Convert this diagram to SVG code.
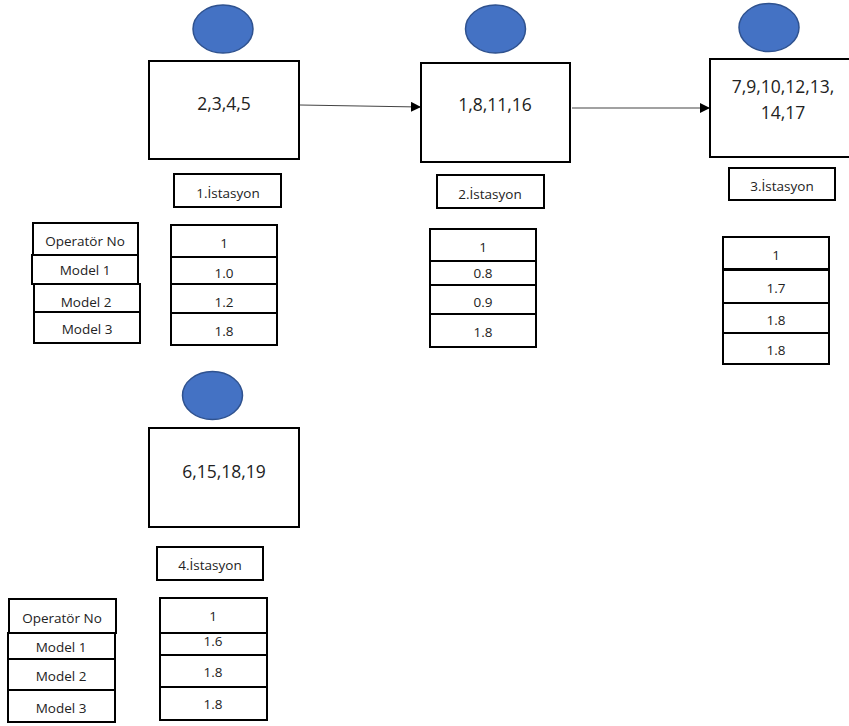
<svg xmlns="http://www.w3.org/2000/svg" width="849" height="726" viewBox="0 0 849 726">
  <style>
    .op { fill: #4472C4; stroke: #2F528F; stroke-width: 1.5; }
    .box { fill: #fff; stroke: #000; stroke-width: 2; }
    .cell { fill: #fff; stroke: #000; stroke-width: 2; }
    .big { font-family: "Open Sans", "Noto Sans", sans-serif; font-size: 17.5px; fill: #222; text-anchor: middle; }
    .small { font-family: "Open Sans", "Noto Sans", sans-serif; font-size: 13.5px; fill: #222; text-anchor: middle; }
    .link { stroke: #444; stroke-width: 1.2; fill: none; marker-end: url(#head); }
  </style>
  <defs>
    <marker id="head" markerWidth="10" markerHeight="10" refX="9" refY="5" orient="auto" markerUnits="userSpaceOnUse">
      <path d="M0,0 L10,5 L0,10 Z" fill="#000"/>
    </marker>
  </defs>
  <rect width="849" height="726" fill="#fff"/>

  <!-- connectors between stations -->
  <g id="connectors">
    <line class="link" x1="300" y1="105" x2="420" y2="107"/>
    <line class="link" x1="572" y1="108" x2="709" y2="108"/>
  </g>

  <!-- station 1 -->
  <g id="station1">
    <ellipse class="op" cx="223" cy="29" rx="30" ry="24"/>
    <rect class="box" x="149" y="61" width="150" height="98"/>
    <text class="big" x="224" y="110">2,3,4,5</text>
    <rect class="box" x="174" y="174" width="107" height="33"/>
    <text class="small" x="228" y="198">1.İstasyon</text>
  </g>

  <!-- row labels, upper -->
  <g id="labels1">
    <rect class="cell" x="33" y="223" width="105" height="32"/>
    <text class="small" x="85" y="246">Operatör No</text>
    <rect class="cell" x="32" y="255" width="106" height="29"/>
    <text class="small" x="85" y="275">Model 1</text>
    <rect class="cell" x="34" y="284" width="106" height="28"/>
    <text class="small" x="86" y="307">Model 2</text>
    <rect class="cell" x="34" y="312" width="106" height="31"/>
    <text class="small" x="87" y="334">Model 3</text>
  </g>

  <!-- station 1 values -->
  <g id="table1">
    <rect class="cell" x="171" y="225" width="106" height="32"/>
    <text class="small" x="224" y="248">1</text>
    <rect class="cell" x="171" y="257" width="106" height="27"/>
    <text class="small" x="224" y="278">1.0</text>
    <rect class="cell" x="171" y="284" width="106" height="29"/>
    <text class="small" x="224" y="307">1.2</text>
    <rect class="cell" x="171" y="313" width="106" height="32"/>
    <text class="small" x="224" y="336">1.8</text>
  </g>

  <!-- station 2 -->
  <g id="station2">
    <ellipse class="op" cx="495.5" cy="29" rx="30" ry="24"/>
    <rect class="box" x="421" y="63" width="149" height="99"/>
    <text class="big" x="495" y="111">1,8,11,16</text>
    <rect class="box" x="437" y="175" width="107" height="33"/>
    <text class="small" x="490" y="199">2.İstasyon</text>
  </g>

  <g id="table2">
    <rect class="cell" x="430" y="229" width="106" height="32"/>
    <text class="small" x="483" y="252">1</text>
    <rect class="cell" x="430" y="261" width="106" height="24"/>
    <text class="small" x="483" y="278">0.8</text>
    <rect class="cell" x="430" y="285" width="106" height="29"/>
    <text class="small" x="483" y="307">0.9</text>
    <rect class="cell" x="430" y="314" width="106" height="33"/>
    <text class="small" x="483" y="337">1.8</text>
  </g>

  <!-- station 3 -->
  <g id="station3">
    <ellipse class="op" cx="769" cy="27.5" rx="30" ry="24"/>
    <rect class="box" x="710" y="59" width="142" height="98"/>
    <text class="big" x="783" y="93">7,9,10,12,13,</text>
    <text class="big" x="783" y="119">14,17</text>
    <rect class="box" x="729" y="168" width="106" height="32"/>
    <text class="small" x="782" y="191">3.İstasyon</text>
  </g>

  <g id="table3">
    <rect class="cell" x="723" y="237" width="106" height="32"/>
    <text class="small" x="776" y="260">1</text>
    <rect class="cell" x="723" y="270" width="106" height="33"/>
    <text class="small" x="776" y="293">1.7</text>
    <rect class="cell" x="723" y="303" width="106" height="30"/>
    <text class="small" x="776" y="325">1.8</text>
    <rect class="cell" x="723" y="333" width="106" height="31"/>
    <text class="small" x="776" y="355">1.8</text>
  </g>

  <!-- station 4 -->
  <g id="station4">
    <ellipse class="op" cx="212.5" cy="395.5" rx="30" ry="24"/>
    <rect class="box" x="149" y="428" width="150" height="99"/>
    <text class="big" x="224" y="478">6,15,18,19</text>
    <rect class="box" x="157" y="547" width="106" height="33"/>
    <text class="small" x="210" y="570">4.İstasyon</text>
  </g>

  <!-- row labels, lower -->
  <g id="labels2">
    <rect class="cell" x="9" y="599" width="107" height="34"/>
    <text class="small" x="62" y="623">Operatör No</text>
    <rect class="cell" x="8" y="633" width="107" height="26"/>
    <text class="small" x="61" y="652">Model 1</text>
    <rect class="cell" x="8" y="659" width="107" height="31"/>
    <text class="small" x="61" y="681">Model 2</text>
    <rect class="cell" x="8" y="690" width="107" height="32"/>
    <text class="small" x="61" y="713">Model 3</text>
  </g>

  <!-- station 4 values -->
  <g id="table4">
    <rect class="cell" x="160" y="598" width="107" height="35"/>
    <text class="small" x="213" y="621">1</text>
    <rect class="cell" x="160" y="633" width="107" height="22"/>
    <text class="small" x="213" y="646">1.6</text>
    <rect class="cell" x="160" y="655" width="107" height="32"/>
    <text class="small" x="213" y="677">1.8</text>
    <rect class="cell" x="160" y="687" width="107" height="33"/>
    <text class="small" x="213" y="709">1.8</text>
  </g>
</svg>
